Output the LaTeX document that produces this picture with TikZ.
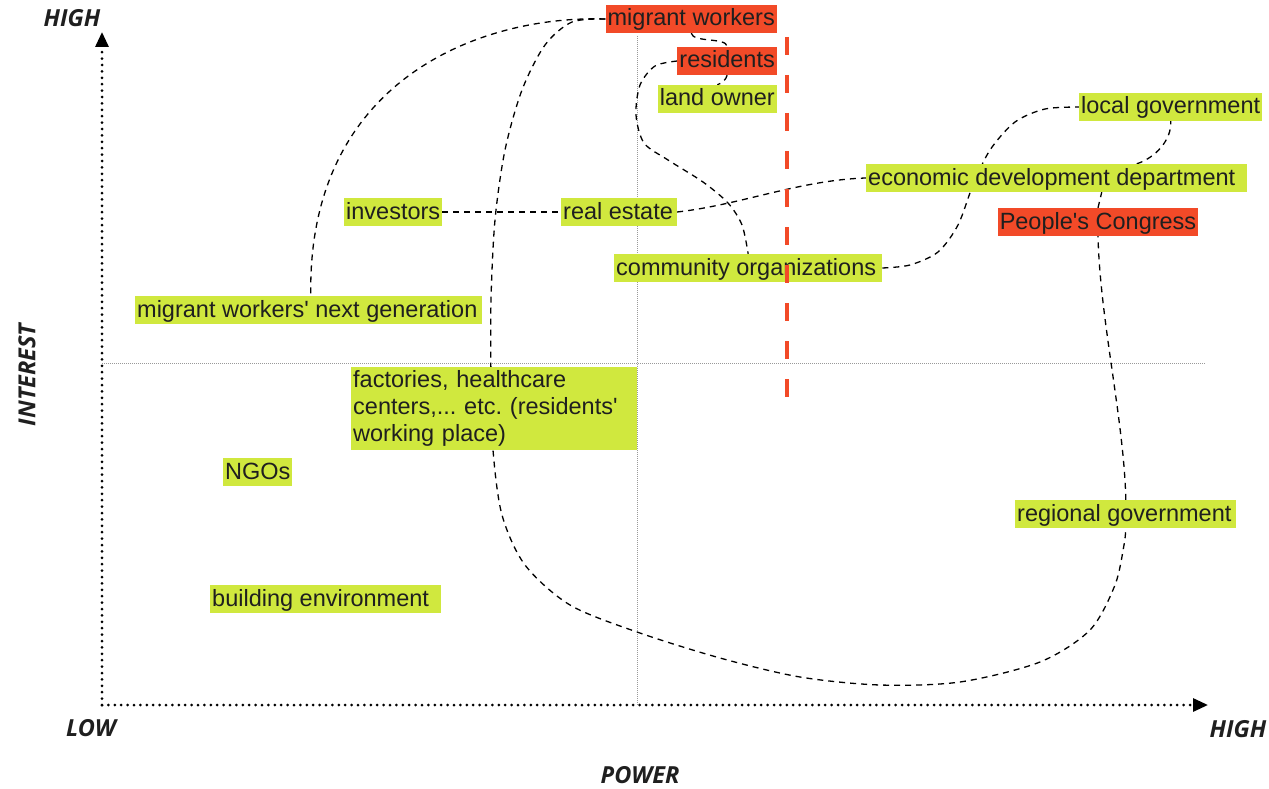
\documentclass[tikz,border=0pt]{standalone}
\usepackage{fontspec}
\setmainfont{Liberation Sans}[Ligatures=TeXOff]
\newfontfamily\axfont{Open Sans}
\usetikzlibrary{arrows.meta,calc,backgrounds}
\definecolor{lime}{RGB}{208,232,62}
\definecolor{tomato}{RGB}{242,74,40}
\frenchspacing
\tikzset{
  lbl/.style={font=\fontsize{23.5}{27}\selectfont\frenchspacing, text=black!88, text height=19.5pt, text depth=5.5pt, inner xsep=2pt, inner ysep=1.5pt, fill=lime},
  redlbl/.style={lbl, fill=tomato},
  axlbl/.style={font=\axfont\bfseries\itshape\fontsize{23.5}{26}\selectfont, text=black!88},
  axisline/.style={line width=3pt, dash pattern=on 0pt off 6.4pt, line cap=round, -{Triangle[length=15pt,width=13pt,line cap=butt]}},
  thin dots/.style={gray!80, line width=0.7pt, dash pattern=on 1pt off 1pt},
  conn/.style={black, line width=1.3pt, dash pattern=on 6pt off 5pt},
  redcut/.style={tomato, line width=4.5pt, dash pattern=on 18pt off 20pt}
}
\begin{document}
\begin{tikzpicture}[x=1pt,y=-1pt]
\useasboundingbox (0,0) rectangle (1269,789);
% axis labels
\node[axlbl] (yhigh) at (72,18) {HIGH};
\node[axlbl] (low) at (91,728) {LOW};
\node[axlbl] (xhigh) at (1238,729) {HIGH};
\node[axlbl] (power) at (640,775) {POWER};
\node[axlbl, rotate=90] (interest) at (27,375) {INTEREST};
% stakeholders
\node[redlbl, anchor=east] (mw) at (777,19) {migrant workers};
\node[redlbl, anchor=east] (res) at (777,61) {residents};
\node[lbl, anchor=east] (lo) at (777,99) {land owner};
\node[lbl, anchor=west] (lg) at (1079,107) {local government};
\node[lbl, anchor=west] (econ) at (866,178) {economic development department\kern10pt};
\node[redlbl] (pc) at (1098,222) {People's Congress};
\node[lbl, anchor=west] (inv) at (344,212) {investors};
\node[lbl, anchor=west] (re) at (561,212) {real estate\kern2pt};
\node[lbl, anchor=west] (co) at (614,268) {community organizations\kern4pt};
\node[lbl, anchor=west] (ng) at (135,310) {migrant workers' next generation\kern3pt};
\node[lbl, anchor=north west, text width=282pt, align=left, text height=, text depth=, inner ysep=3pt, minimum height=83pt] (fac) at (351,367) {factories, healthcare\\centers,... etc. (residents'\\working place)};
\node[lbl, anchor=west] (ngo) at (223,472) {NGOs};
\node[lbl, anchor=west] (rg) at (1015,514) {regional government\kern3pt};
\node[lbl, anchor=west] (be) at (210,599) {building environment\kern10pt};
\begin{scope}[on background layer]
% axes
\coordinate (o) at (102,705);
\coordinate (ytop) at (102,32);
\coordinate (xend) at (1208,705);
\draw[axisline] (o) -- (ytop);
\draw[axisline] (o) -- (xend);
\coordinate (vt) at (637,36);
\coordinate (vb) at (637,705);
\coordinate (hl) at (102,363);
\coordinate (hr) at (1205,363);
\draw[thin dots] (vt) -- (vb);
\draw[thin dots] (hl) -- (hr);
% connectors
\draw[conn] (mw.west) .. controls (480,15) and (307,80) .. ([xshift=2pt]ng.north);
\draw[conn] plot[smooth] coordinates {(mw.west) (572,22) (545,45) (522,90) (505,150) (495,220) (491,300) (491,380) (493,450) (502,515) (525,565) (570,605) (637,632) (720,658) (800,677) (880,685) (960,682) (1040,662) (1090,630) (1115,585) (1124,545) (rg.south)};
\draw[conn] (rg.north) .. controls (1124,420) and (1100,320) .. (pc.south);
\draw[conn] (pc.north) -- ([xshift=45pt]econ.south);
\draw[conn] ([xshift=80pt]econ.north) .. controls (1155,158) and (1172,140) .. (lg.south);
\draw[conn] (mw.south) .. controls (693,43) and (727,37) .. (res.north);
\draw[conn] (res.south) .. controls (726,80) and (722,83) .. (lo.north);
\draw[conn] plot[smooth] coordinates {(res.west) (655,66) (640,85) (636,115) (644,143) (668,160) (703,182) (728,203) (742,225) (co.north)};
\draw[conn] (inv.east) -- (re.west);
\draw[conn] (re.east) .. controls (740,205) and (800,180) .. (econ.west);
\draw[conn] plot[smooth] coordinates {(co.east) (910,265) (938,252) (958,225) (973,185) (990,150) (1015,122) (1045,109) (lg.west)};
\end{scope}
% red cut line
\coordinate (rt) at (787,37);
\coordinate (rb) at (787,397);
\draw[redcut] (rt) -- (rb);
\end{tikzpicture}
\end{document}
